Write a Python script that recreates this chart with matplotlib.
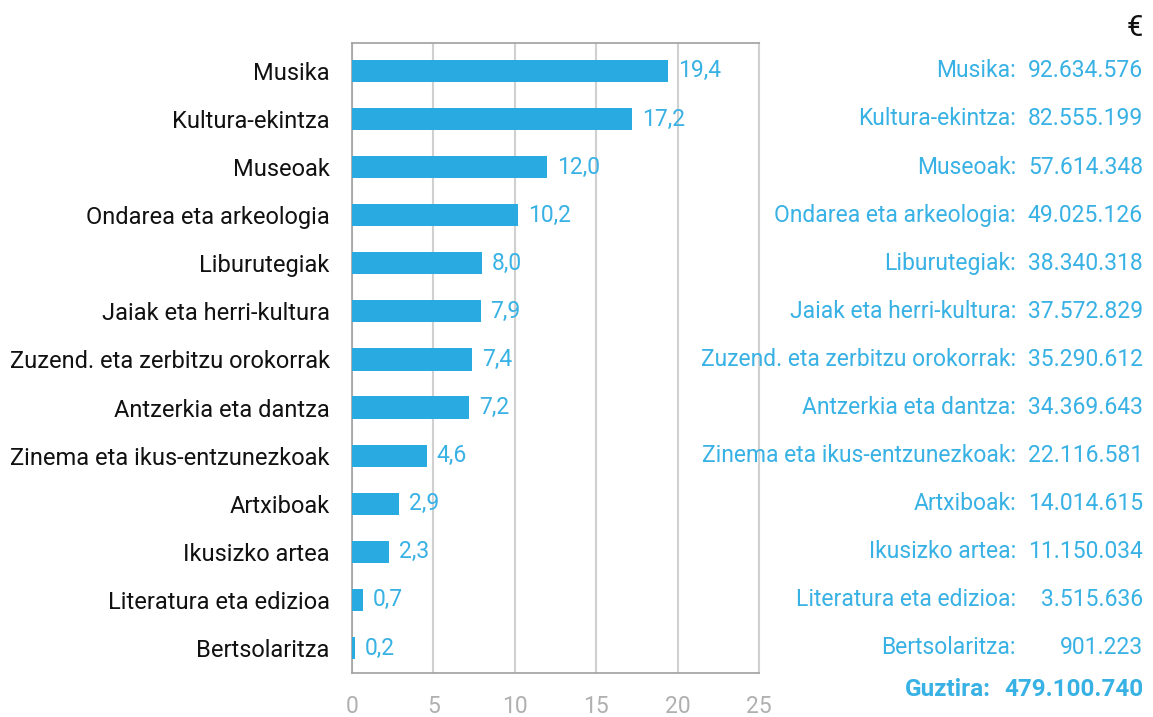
import matplotlib.pyplot as plt

categories = ['Musika', 'Kultura-ekintza', 'Museoak', 'Ondarea eta arkeologia',
              'Liburutegiak', 'Jaiak eta herri-kultura', 'Zuzend. eta zerbitzu orokorrak',
              'Antzerkia eta dantza', 'Zinema eta ikus-entzunezkoak', 'Artxiboak',
              'Ikusizko artea', 'Literatura eta edizioa', 'Bertsolaritza']
percent = [19.4, 17.2, 12.0, 10.2, 8.0, 7.9, 7.4, 7.2, 4.6, 2.9, 2.3, 0.7, 0.2]
euros = ['92.634.576', '82.555.199', '57.614.348', '49.025.126', '38.340.318',
         '37.572.829', '35.290.612', '34.369.643', '22.116.581', '14.014.615',
         '11.150.034', '3.515.636', '901.223']
total = '479.100.740'
xticks = [0, 5, 10, 15, 20, 25]

blue = '#29abe2'
text_blue = '#38b1e4'
plt.rcParams['font.family'] = ['Roboto', 'DejaVu Sans']
fs = 16.5

fig = plt.figure(figsize=(11.53, 7.17), dpi=100)
ax = fig.add_axes([352 / 1153, 1 - 673 / 717, 407 / 1153, 630 / 717])

y = list(range(len(categories)))
ax.barh(y, percent, height=0.46, color=blue, zorder=3)
for yi, v in zip(y, percent):
    ax.text(v + 0.6, yi, f'{v:.1f}'.replace('.', ','), va='center', ha='left',
            color=text_blue, fontsize=fs, zorder=4)

ax.set_xlim(0, 25)
ax.set_ylim(12.52, -0.58)
ax.set_xticks(xticks)
ax.set_yticks(y)
ax.set_yticklabels(categories, fontsize=17, color='#111111')
ax.tick_params(axis='x', length=0, pad=16, labelsize=fs, labelcolor='#b0b0b0')
ax.tick_params(axis='y', length=0, pad=16)
ax.xaxis.grid(True, color='#d0d0d0', linewidth=1.5, zorder=0)
ax.set_axisbelow(True)
for side in ['left', 'bottom', 'top']:
    ax.spines[side].set_color('#a0a0a0')
    ax.spines[side].set_linewidth(1.2)
ax.spines['right'].set_color('#d0d0d0')
ax.spines['right'].set_linewidth(1.5)

# right-hand column with amounts in euros
fig.text(1143 / 1153, 1 - 28 / 717, '€', ha='right', va='center', fontsize=21, color='#111111')
for yi, (cat, amt) in enumerate(zip(categories, euros)):
    yy = ax.transData.transform((0, yi))[1] / fig.dpi / fig.get_figheight()
    fig.text(1016 / 1153, yy, cat + ':', ha='right', va='center', fontsize=fs,
             color=text_blue)
    fig.text(1143 / 1153, yy, amt, ha='right', va='center', fontsize=fs,
             color=text_blue)
fig.text(991 / 1153, 1 - 689 / 717, 'Guztira:', ha='right', va='center',
         fontsize=17.5, color=text_blue, fontweight='bold')
fig.text(1143 / 1153, 1 - 689 / 717, total, ha='right', va='center',
         fontsize=17.5, color=text_blue, fontweight='bold')

fig.savefig('out.png', dpi=100)
